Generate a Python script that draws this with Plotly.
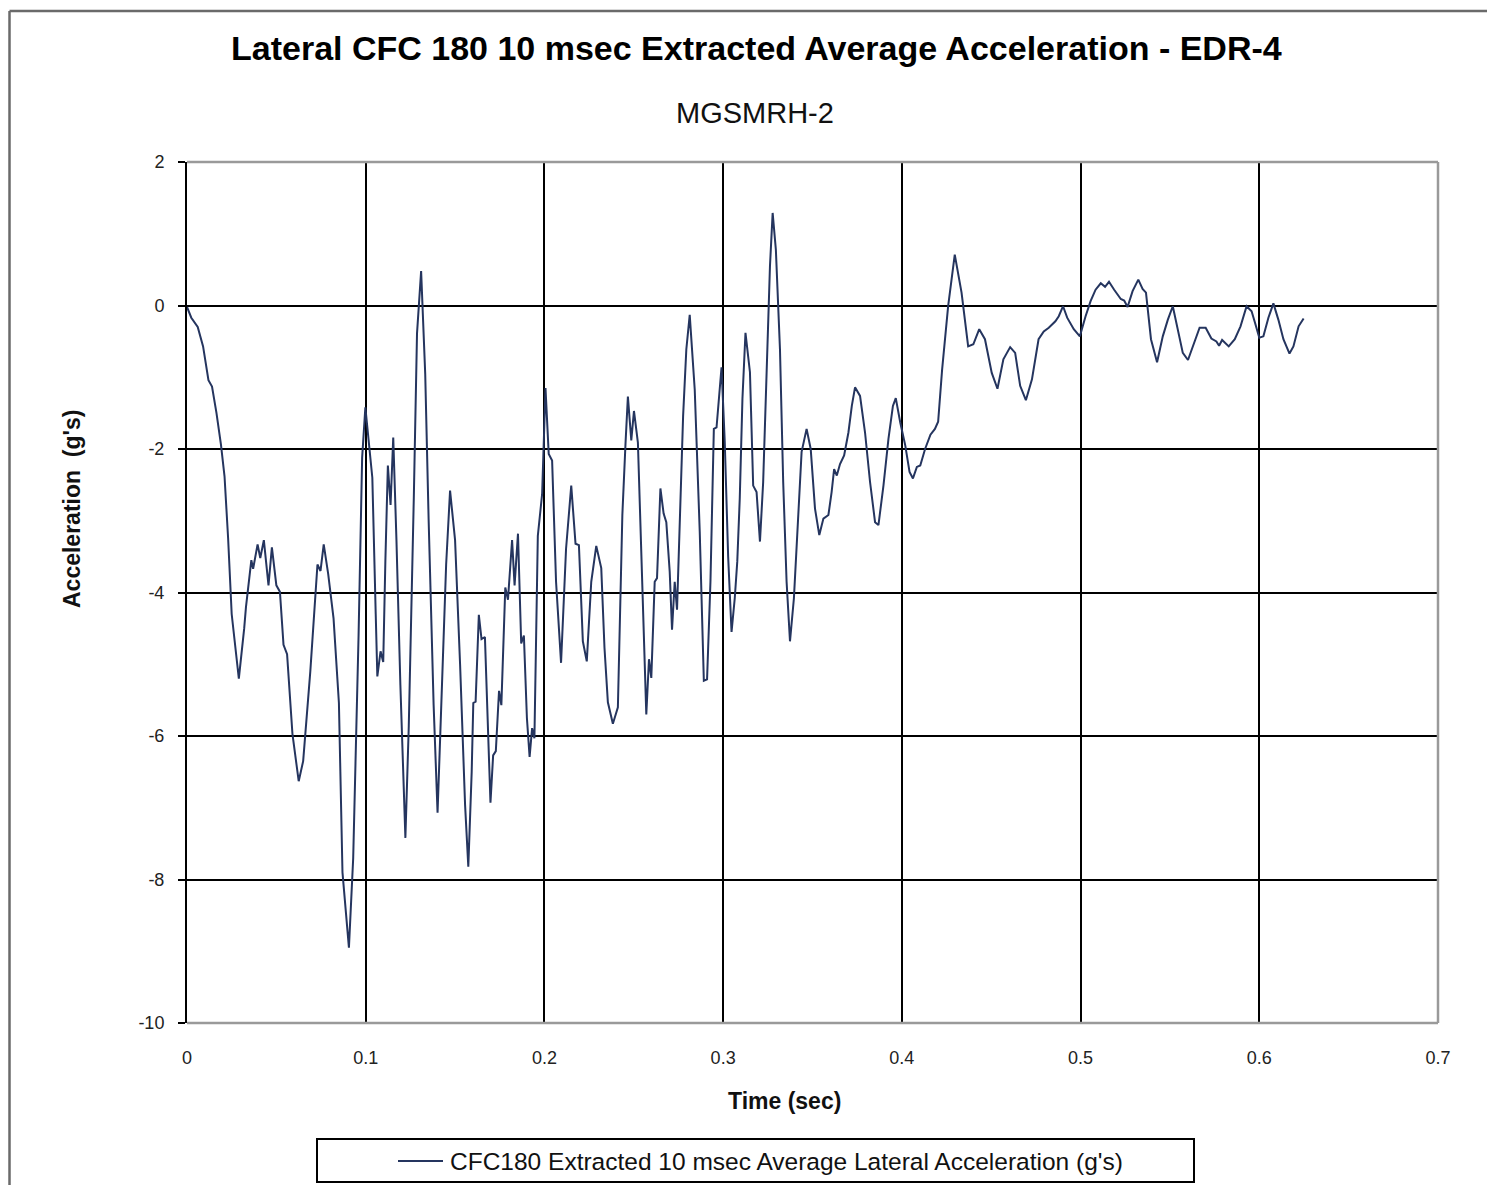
import plotly.graph_objects as go

time_s = [0, 0.0024, 0.006, 0.009, 0.012, 0.014, 0.0165, 0.019, 0.021, 0.023, 0.025, 0.027, 0.029,
          0.032, 0.033, 0.036, 0.037, 0.0395, 0.041, 0.043, 0.0456, 0.0475, 0.050, 0.052, 0.054, 0.056,
          0.059, 0.0625, 0.065, 0.069, 0.073, 0.0747, 0.0765, 0.079, 0.082, 0.085, 0.087, 0.0906, 0.093,
          0.096, 0.098, 0.0998, 0.102, 0.1037, 0.1056, 0.1065, 0.1083, 0.1098, 0.111, 0.1124, 0.1139,
          0.1154, 0.1172, 0.1194, 0.1222, 0.1241, 0.1269, 0.1287, 0.131, 0.1333, 0.1352, 0.138, 0.1402,
          0.1426, 0.145, 0.1472, 0.150, 0.1528, 0.1556, 0.1574, 0.1593, 0.1602, 0.1615, 0.1633, 0.1648,
          0.1667, 0.1685, 0.1698, 0.1713, 0.1728, 0.1746, 0.1759, 0.1781, 0.1796, 0.1819, 0.1833, 0.1852,
          0.187, 0.1885, 0.1902, 0.1917, 0.1931, 0.1944, 0.1963, 0.1987, 0.2006, 0.2024, 0.2043, 0.2065,
          0.2093, 0.2121, 0.215, 0.2174, 0.2193, 0.2215, 0.2237, 0.2262, 0.229, 0.2318, 0.2336, 0.2355,
          0.2383, 0.2411, 0.2436, 0.2454, 0.2467, 0.2486, 0.2501, 0.2523, 0.2542, 0.2555, 0.257, 0.2585,
          0.2598, 0.2617, 0.263, 0.2649, 0.2667, 0.2682, 0.2701, 0.2714, 0.2729, 0.2742, 0.2757, 0.2776,
          0.2794, 0.2813, 0.2841, 0.2869, 0.2892, 0.291, 0.2929, 0.2948, 0.2963, 0.2991, 0.3009, 0.3028,
          0.3047, 0.3065, 0.3079, 0.3093, 0.3108, 0.3125, 0.315, 0.3168, 0.3187, 0.3206, 0.3224, 0.3243,
          0.3262, 0.3277, 0.3295, 0.3318, 0.3336, 0.3355, 0.3374, 0.3396, 0.3421, 0.3439, 0.3467, 0.349,
          0.3514, 0.3538, 0.3561, 0.3589, 0.3607, 0.3621, 0.3636, 0.3654, 0.3677, 0.3701, 0.372, 0.3738,
          0.3766, 0.3794, 0.3822, 0.385, 0.3869, 0.3897, 0.3925, 0.395, 0.3966, 0.3991, 0.4019, 0.4043,
          0.4062, 0.4084, 0.4103, 0.413, 0.416, 0.4185, 0.4203, 0.4225, 0.4259, 0.4296, 0.4334, 0.4371,
          0.440, 0.4433, 0.4465, 0.4503, 0.4535, 0.4568, 0.4606, 0.4634, 0.4662, 0.4694, 0.4728, 0.4765,
          0.4794, 0.4822, 0.4859, 0.4878, 0.4902, 0.4925, 0.4962, 0.4996, 0.5028, 0.5056, 0.5084, 0.5113,
          0.5137, 0.5159, 0.5188, 0.5225, 0.5244, 0.5263, 0.5291, 0.5323, 0.5347, 0.5366, 0.5394, 0.5428,
          0.546, 0.5488, 0.5516, 0.5544, 0.5572, 0.5601, 0.5629, 0.5666, 0.570, 0.5732, 0.576, 0.5775,
          0.5792, 0.5829, 0.5863, 0.5895, 0.5929, 0.5957, 0.5976, 0.600, 0.6023, 0.6051, 0.6079, 0.6107,
          0.6135, 0.6169, 0.6191, 0.622, 0.6248]

accel_g = [-0.02, -0.17, -0.30, -0.57, -1.04, -1.13, -1.50, -1.94, -2.38, -3.24, -4.30, -4.80, -5.20,
           -4.50, -4.20, -3.55, -3.67, -3.33, -3.52, -3.27, -3.90, -3.37, -3.90, -3.99, -4.73, -4.86,
           -5.97, -6.63, -6.35, -5.10, -3.61, -3.70, -3.33, -3.74, -4.36, -5.54, -7.90, -8.95, -7.70,
           -4.60, -2.12, -1.42, -1.94, -2.40, -4.30, -5.17, -4.82, -4.97, -3.56, -2.23, -2.78,
           -1.84, -3.27, -5.29, -7.42, -5.86, -2.69, -0.39, 0.48, -0.96, -2.98, -5.57, -7.07,
           -5.29, -3.61, -2.58, -3.27, -5.00, -6.96, -7.82, -6.50, -5.54, -5.52, -4.31, -4.65,
           -4.62, -5.86, -6.93, -6.27, -6.21, -5.37, -5.57, -3.93, -4.10, -3.27, -3.90, -3.18,
           -4.71, -4.60, -5.75, -6.29, -5.89, -6.03, -3.21, -2.63, -1.15, -2.07, -2.16, -3.85,
           -4.98, -3.39, -2.51, -3.32, -3.34, -4.68, -4.96, -3.85, -3.35, -3.66, -4.77, -5.53,
           -5.83, -5.60, -2.92, -1.91, -1.27, -1.88, -1.47, -1.91, -3.39, -4.54, -5.70, -4.93,
           -5.19, -3.85, -3.80, -2.55, -2.90, -3.02, -3.71, -4.52, -3.85, -4.24, -2.92, -1.54,
           -0.61, -0.13, -1.17, -3.15, -5.23, -5.21, -3.85, -1.72, -1.70, -0.86, -1.90, -3.50,
           -4.55, -4.08, -3.57, -2.69, -1.30, -0.38, -0.93, -2.51, -2.60, -3.29, -2.46, -0.84,
           0.55, 1.29, 0.78, -0.61, -2.46, -3.85, -4.68, -4.08, -2.92, -2.04, -1.72, -2.00,
           -2.83, -3.20, -2.97, -2.92, -2.60, -2.28, -2.37, -2.21, -2.09, -1.77, -1.40, -1.14,
           -1.26, -1.77, -2.46, -3.02, -3.06, -2.51, -1.86, -1.40, -1.29, -1.63, -1.95, -2.32,
           -2.41, -2.25, -2.23, -2.00, -1.80, -1.72, -1.62, -0.90, -0.01, 0.71, 0.18, -0.57,
           -0.54, -0.33, -0.47, -0.94, -1.16, -0.75, -0.58, -0.66, -1.12, -1.32, -1.03, -0.47,
           -0.36, -0.31, -0.22, -0.15, -0.01, -0.17, -0.33, -0.43, -0.15, 0.06, 0.22, 0.31,
           0.26, 0.33, 0.22, 0.09, 0.07, -0.02, 0.20, 0.36, 0.23, 0.18, -0.47, -0.79,
           -0.43, -0.20, -0.01, -0.36, -0.66, -0.76, -0.57, -0.31, -0.31, -0.46, -0.50, -0.56,
           -0.48, -0.57, -0.47, -0.29, -0.01, -0.08, -0.24, -0.45, -0.43, -0.17, 0.03, -0.20,
           -0.47, -0.67, -0.57, -0.29, -0.18]

series_name = "CFC180 Extracted 10 msec Average Lateral Acceleration (g's)"
title_text = "Lateral CFC 180 10 msec Extracted Average Acceleration - EDR-4"
subtitle_text = "MGSMRH-2"
x_title = "Time (sec)"
y_title = "Acceleration  (g's)"
x_ticks = [0, 0.1, 0.2, 0.3, 0.4, 0.5, 0.6, 0.7]
x_ticklabels = ["0", "0.1", "0.2", "0.3", "0.4", "0.5", "0.6", "0.7"]
y_ticks = [2, 0, -2, -4, -6, -8, -10]
y_ticklabels = ["2", "0", "-2", "-4", "-6", "-8", "-10"]

FONT = "Liberation Sans, Arial, sans-serif"
LINE_COLOR = "#25355f"
OFF = 8  # page body margin
W, H = 1495 - 2 * OFF, 1193 - 2 * OFF
PL, PR, PT, PB = 187, 1438, 162, 1023
L, R, T, B = PL - OFF, PR - OFF, PT - OFF, PB - OFF


def px(x):
    return (x - PL) / (PR - PL)


def py(y):
    return (PB - y) / (PB - PT)


fig = go.Figure()
fig.add_trace(go.Scatter(x=time_s, y=accel_g, mode="lines", name=series_name,
                         line=dict(color=LINE_COLOR, width=2), showlegend=False))

fig.update_layout(
    width=W, height=H,
    margin=dict(l=L, r=W - R, t=T, b=H - B, autoexpand=False),
    paper_bgcolor="white", plot_bgcolor="white",
    font=dict(family=FONT, color="#000000"),
    showlegend=False,
    xaxis=dict(range=[0, 0.7], tickvals=x_ticks, ticktext=x_ticklabels,
               showgrid=True, gridcolor="#000000", gridwidth=1.5,
               showline=False, zeroline=False, ticks="",
               ticklabelstandoff=22,
               tickfont=dict(family=FONT, size=18, color="#222222")),
    yaxis=dict(range=[-10, 2], tickvals=y_ticks, ticktext=y_ticklabels,
               showgrid=True, gridcolor="#000000", gridwidth=1.5,
               showline=True, linecolor="#000000", linewidth=2,
               zeroline=False, ticks="outside", ticklen=7, tickcolor="#000000", tickwidth=1.5,
               ticklabelstandoff=10,
               tickfont=dict(family=FONT, size=18, color="#222222")),
)

shapes = []
for (x0, y0, x1, y1) in [(0, 1, 1, 1), (1, 0, 1, 1), (0, 0, 1, 0)]:
    shapes.append(dict(type="line", xref="paper", yref="paper", x0=x0, y0=y0, x1=x1, y1=y1,
                       line=dict(color="#9a9a9a", width=2.5), layer="above"))
# outer chart frame: left and top edges
shapes.append(dict(type="line", xref="paper", yref="paper", x0=px(9.5), x1=px(9.5), y0=py(11), y1=py(1193),
                   line=dict(color="#6a6a6a", width=2.5), layer="below"))
shapes.append(dict(type="line", xref="paper", yref="paper", x0=px(9.5), x1=px(1495), y0=py(11), y1=py(11),
                   line=dict(color="#6a6a6a", width=2.5), layer="below"))
# legend box and sample line
shapes.append(dict(type="rect", xref="paper", yref="paper",
                   x0=px(317), x1=px(1194), y0=py(1139), y1=py(1182),
                   line=dict(color="#000000", width=2), layer="above"))
shapes.append(dict(type="line", xref="paper", yref="paper",
                   x0=px(398), x1=px(443), y0=py(1161), y1=py(1161),
                   line=dict(color=LINE_COLOR, width=2), layer="above"))
fig.update_layout(shapes=shapes)

annotations = [
    dict(text=f"<b>{title_text}</b>", x=px(756), y=py(48), xref="paper", yref="paper",
         showarrow=False, xanchor="center", yanchor="middle",
         font=dict(family=FONT, size=34, color="#000000")),
    dict(text=subtitle_text, x=px(755), y=py(113), xref="paper", yref="paper",
         showarrow=False, xanchor="center", yanchor="middle",
         font=dict(family=FONT, size=29, color="#111111")),
    dict(text=f"<b>{x_title}</b>", x=px(784), y=py(1101), xref="paper", yref="paper",
         showarrow=False, xanchor="center", yanchor="middle",
         font=dict(family=FONT, size=23, color="#111111")),
    dict(text=f"<b>{y_title}</b>", x=px(72), y=py(509), xref="paper", yref="paper",
         showarrow=False, xanchor="center", yanchor="middle", textangle=-90,
         font=dict(family=FONT, size=23, color="#111111")),
    dict(text=series_name, x=px(448), y=py(1161), xref="paper", yref="paper",
         showarrow=False, xanchor="left", yanchor="middle",
         font=dict(family=FONT, size=24.5, color="#111111")),
]
fig.update_layout(annotations=annotations)

fig.write_html("out.html")
